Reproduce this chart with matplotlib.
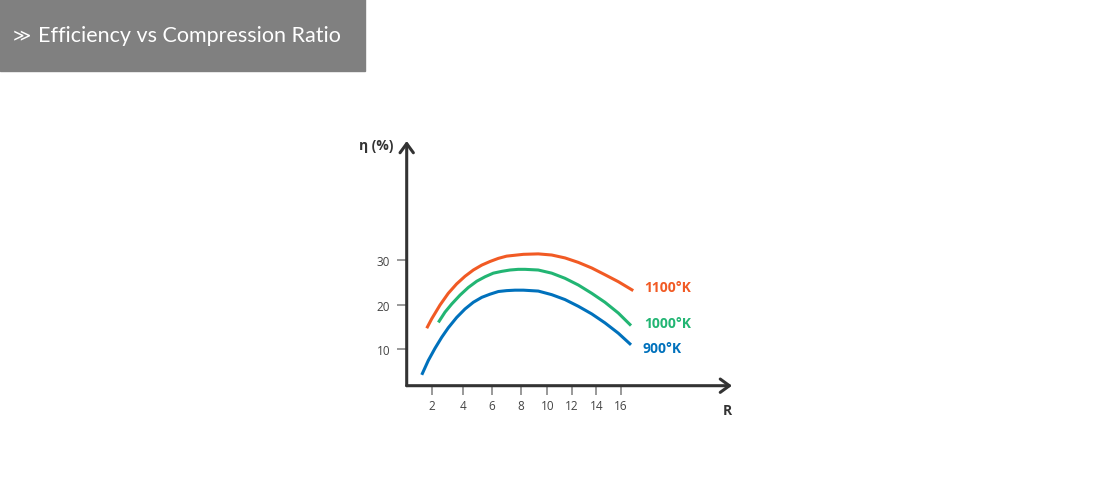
import numpy as np
import matplotlib.pyplot as plt
from matplotlib.patches import Rectangle

plt.rcParams['font.family'] = ['Open Sans', 'DejaVu Sans']

# curves: compression ratio R vs efficiency (%)
r_900 = [1.34, 1.76, 2.19, 2.63, 3.05, 3.59, 4.14, 4.72, 5.31, 5.88, 6.46, 7.03,
         7.61, 8.20, 9.32, 10.36, 11.45, 12.54, 13.63, 14.70, 15.78, 16.81]
eta_900 = [4.3, 7.5, 10.2, 12.7, 14.8, 17.1, 19.0, 20.5, 21.6, 22.3, 22.9, 23.1,
           23.2, 23.2, 23.0, 22.2, 21.1, 19.6, 17.9, 15.9, 13.6, 11.0]

r_1000 = [2.41, 2.84, 3.27, 3.81, 4.37, 4.96, 5.54, 6.11, 6.69, 7.26, 7.83, 8.32,
          9.32, 10.36, 11.45, 12.54, 13.63, 14.70, 15.78, 16.81]
eta_1000 = [16.0, 18.3, 20.1, 22.1, 23.8, 25.2, 26.2, 27.0, 27.4, 27.7, 27.85, 27.85,
            27.7, 27.0, 25.85, 24.35, 22.5, 20.5, 18.1, 15.3]

r_1100 = [1.66, 1.98, 2.52, 3.05, 3.59, 4.14, 4.72, 5.31, 5.88, 6.46, 7.03, 7.61,
          8.20, 9.32, 10.36, 11.45, 12.54, 13.63, 14.70, 15.78, 16.99]
eta_1100 = [14.7, 16.8, 19.9, 22.5, 24.6, 26.3, 27.7, 28.8, 29.6, 30.3, 30.8, 31.0,
            31.2, 31.3, 31.05, 30.4, 29.4, 28.15, 26.65, 25.1, 23.1]

series = [
    (r_1100, eta_1100, '1100°K', '#f15a24', (8, 2.6)),
    (r_1000, eta_1000, '1000°K', '#22b573', (9.4, 1.7)),
    (r_900, eta_900, '900°K', '#0071bc', (8.6, -2.4)),
]

x_ticks = [2, 4, 6, 8, 10, 12, 14, 16]
y_ticks = [10, 20, 30]

# the source axis has uneven tick spacing, so warp the x scale to match it
warp_r = [0, 2, 4, 6, 8, 10, 12, 14, 16, 30]
warp_pos = [401, 432, 463, 491.7, 520.7, 547.3, 571.7, 596.3, 621, 793.9]


def fwd(r):
    return np.interp(r, warp_r, warp_pos)


def inv(p):
    return np.interp(p, warp_pos, warp_r)


W, H = 1100, 481
fig = plt.figure(figsize=(W / 100, H / 100), dpi=100)
fig.patch.set_facecolor('white')

# title bar
fig.patches.append(Rectangle((0, (H - 72) / H), 365 / W, 72 / H,
                             transform=fig.transFigure, color='#808080', zorder=0))
fig.text(13 / W, (H - 35) / H, '≫', color='white', fontsize=12.5,
         family=['DejaVu Sans'], va='center')
fig.text(38 / W, (H - 42) / H, 'Efficiency vs Compression Ratio', color='white',
         fontsize=15.5, family=['Lato', 'DejaVu Sans'], va='baseline')

ax_l, ax_r, ax_b, ax_t = 406.7, 732, 386.7, 142
ax = fig.add_axes([ax_l / W, (H - ax_b) / H, (ax_r - ax_l) / W, (ax_b - ax_t) / H])
ax.set_xscale('function', functions=(fwd, inv))
ax.set_xlim(inv(ax_l), inv(ax_r))
ax.set_ylim(1.875, 56.5)
ax.patch.set_alpha(0)

for s in ax.spines.values():
    s.set_visible(False)

axis_col = '#333333'
arrow = dict(arrowstyle='->,head_length=0.55,head_width=0.4', lw=2.2,
             color=axis_col, shrinkA=0, shrinkB=0, mutation_scale=12)
ax.annotate('', xy=(0, 1), xytext=(0, 0), xycoords='axes fraction', arrowprops=arrow)
ax.annotate('', xy=(1, 0), xytext=(0, 0), xycoords='axes fraction', arrowprops=arrow)

ax.set_xticks(x_ticks)
ax.set_xticklabels([str(t) for t in x_ticks])
ax.set_yticks(y_ticks)
ax.set_yticklabels([str(t) for t in y_ticks])
ax.minorticks_off()
ax.tick_params(axis='x', direction='out', length=6.5, width=1.2, color='#888888',
               labelsize=8.5, labelcolor='#444444', pad=3)
ax.tick_params(axis='y', direction='out', length=7, width=1.2, color='#888888',
               labelsize=8.5, labelcolor='#444444', pad=5)

for r, eta, name, col, off in series:
    ax.plot(r, eta, color=col, lw=2.2, solid_capstyle='butt',
            solid_joinstyle='round', clip_on=False)
    ax.annotate(name, xy=(r[-1], eta[-1]), xytext=off, textcoords='offset points',
                ha='left', va='center', color=col, fontsize=10, fontweight='bold')

ax.annotate('η (%)', xy=(0, 1), xycoords='axes fraction', xytext=(-9.9, -2.9),
            textcoords='offset points', ha='right', va='center',
            fontsize=10, fontweight='bold', color=axis_col)
ax.annotate('R', xy=(1, 0), xycoords='axes fraction', xytext=(-3.2, -17.3),
            textcoords='offset points', ha='center', va='center',
            fontsize=10, fontweight='bold', color=axis_col)

fig.savefig('out.png', dpi=100)
